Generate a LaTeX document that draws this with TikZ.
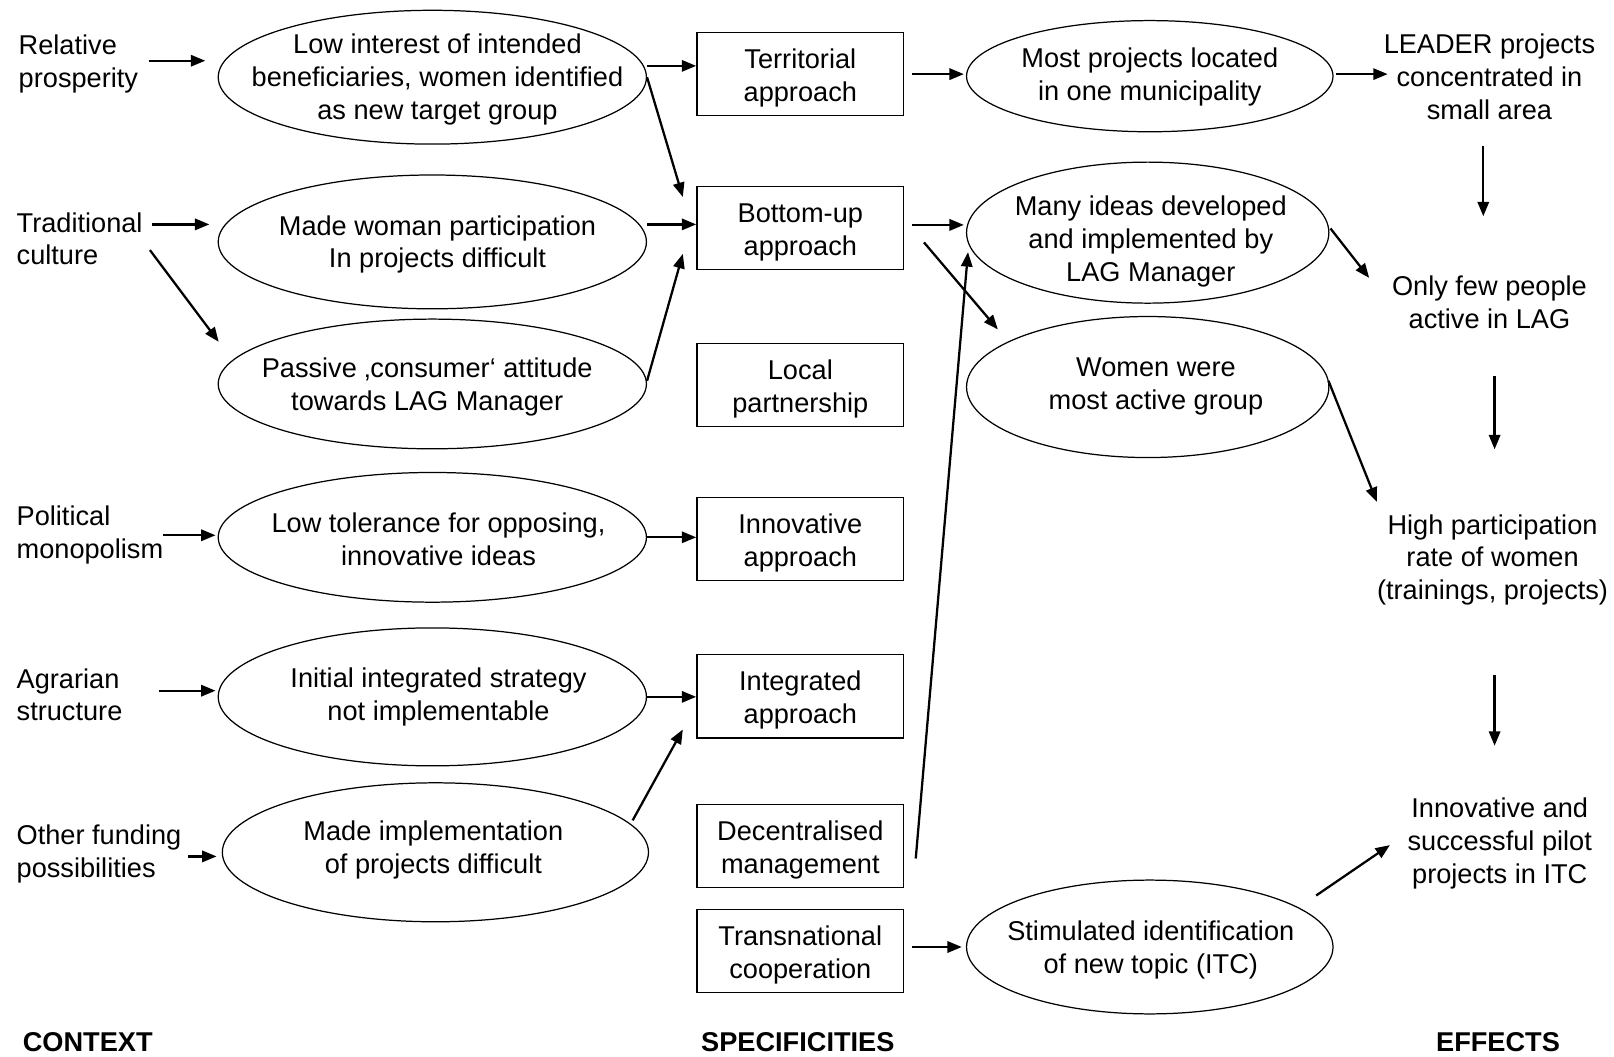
\documentclass[tikz,border=0pt]{standalone}
\usepackage{fontspec}
\setmainfont{Liberation Sans}
\usetikzlibrary{shapes.geometric,arrows.meta}
\newcommand\bxstrut{\rule{0pt}{27pt}}
\begin{document}
\begin{tikzpicture}[x=1pt,y=-1pt,
  every node/.style={font=\fontsize{26.4}{32}\selectfont, inner sep=0pt},
  ell/.style={ellipse, draw, line width=1.2pt},
  txt/.style={align=center},
  ltxt/.style={align=left, anchor=west},
  box/.style={rectangle, draw, line width=1.3pt, minimum width=201pt, minimum height=81pt, align=center},
  arr/.style={line width=2.2pt, -{Triangle[length=14pt,width=11pt]}},
  head/.style={font=\fontsize{26.4}{32}\selectfont\bfseries, anchor=west}]
\useasboundingbox (0,0) rectangle (1568,1026);

% ---- context texts
\node[ltxt] (rp) at (18,62) {Relative\\prosperity};
\node[ltxt] (tc) at (16,232) {Traditional\\culture};
\node[ltxt] (pm) at (16,520) {Political\\monopolism};
\node[ltxt] (as) at (16,675) {Agrarian\\structure};
\node[ltxt] (of) at (16,830) {Other funding\\possibilities};

% ---- left ellipses
\node[ell, minimum width=416pt, minimum height=130pt] (e1) at (420,75) {};
\node[ell, minimum width=416pt, minimum height=130pt] (e2) at (420,235) {};
\node[ell, minimum width=416pt, minimum height=126pt] (e3) at (420,373) {};
\node[ell, minimum width=416pt, minimum height=126pt] (e4) at (420,522) {};
\node[ell, minimum width=416pt, minimum height=134pt] (e5) at (420,677) {};
\node[ell, minimum width=414pt, minimum height=135pt] (e6) at (423,828) {};
\node[txt] (e1t) at (425,77) {Low interest of intended\\beneficiaries, women identified\\as new target group};
\node[txt] (e2t) at (425,237.5) {Made woman participation\\In projects difficult};
\node[txt] (e3t) at (415,375.5) {Passive ‚consumer‘ attitude\\towards LAG Manager};
\node[txt] (e4t) at (426,524) {Low tolerance for opposing,\\innovative ideas};
\node[txt] (e5t) at (426,677) {Initial integrated strategy\\not implementable};
\node[txt] (e6t) at (421,826) {Made implementation\\of projects difficult};

% ---- specificities boxes
\node[box] (b1) at (777.5,72) {\bxstrut Territorial\\approach};
\node[box] (b2) at (777.5,221.5) {\bxstrut Bottom-up\\approach};
\node[box] (b3) at (777.5,374) {\bxstrut Local\\partnership};
\node[box] (b4) at (777.5,523.5) {\bxstrut Innovative\\approach};
\node[box] (b5) at (777.5,676.5) {\bxstrut Integrated\\approach};
\node[box] (b6) at (777.5,822) {\bxstrut Decentralised\\management};
\node[box] (b7) at (777.5,924) {\bxstrut Transnational\\cooperation};

% ---- right ellipses
\node[ell, minimum width=356pt, minimum height=108pt] (e7) at (1117,74) {};
\node[ell, minimum width=352pt, minimum height=137pt] (e8) at (1115,226) {};
\node[ell, minimum width=352pt, minimum height=137pt] (e9) at (1115,376) {};
\node[ell, minimum width=356pt, minimum height=130pt] (e10) at (1117,920) {};
\node[txt] (e7t) at (1117,74.5) {Most projects located\\in one municipality};
\node[txt] (e8t) at (1118,235) {Many ideas developed\\and implemented by\\LAG Manager};
\node[txt] (e9t) at (1123,375.5) {Women were\\most active group};
\node[txt] (e10t) at (1118,923) {Stimulated identification\\of new topic (ITC)};

% ---- effects texts
\node[txt] (lp) at (1447,75) {LEADER projects\\concentrated in\\small area};
\node[txt] (ofp) at (1447,294) {Only few people\\active in LAG};
\node[txt] (hp) at (1450,544) {High participation\\rate of women\\(trainings, projects)};
\node[txt] (ip) at (1457,819) {Innovative and\\successful pilot\\projects in ITC};

% ---- headings
\node[head] (h1) at (22,1012) {CONTEXT};
\node[head] (h2) at (681,1012) {SPECIFICITIES};
\node[head] (h3) at (1395,1012) {EFFECTS};

% ---- arrows: context -> ellipses
\draw[arr] ([xshift=10pt,yshift=3pt]rp.east) -- ([xshift=-12pt,yshift=3pt]e1.west |- rp.east);
\draw[arr] ([xshift=9pt,yshift=14pt]tc.east) -- ([xshift=-8pt,yshift=17pt]e2.west);
\draw[arr] ([xshift=7pt,yshift=-11pt]tc.east) -- ([xshift=1pt,yshift=41pt]e3.west);
\draw[arr] ([xshift=0pt]pm.east) -- ([xshift=-2pt]e4.west |- pm.east);
\draw[arr] ([xshift=35pt,yshift=4pt]as.east) -- ([xshift=-2pt,yshift=4pt]e5.west |- as.east);
\draw[arr] ([xshift=6pt,yshift=-2pt]of.east) -- ([xshift=-5pt,yshift=-2pt]e6.west |- of.east);

% ---- ellipses -> boxes
\draw[arr] ([yshift=11pt]e1.east) -- ([yshift=11pt]e1.east -| b1.west);
\draw[arr] (e1.east) -- ([xshift=-13pt,yshift=-11pt]b2.north west);
\draw[arr] ([yshift=17pt]e2.east) -- ([yshift=17pt]e2.east -| b2.west);
\draw[arr] ([yshift=3pt]e3.east) -- ([xshift=-13pt,yshift=16pt]b2.south west);
\draw[arr] (e4.east) -- (e4.east -| b4.west);
\draw[arr] (e5.east) -- (e5.east -| b5.west);
\draw[arr] ([xshift=-16pt,yshift=31pt]e6.east) -- ([xshift=-13pt,yshift=9pt]b5.south west);

% ---- boxes -> right ellipses
\draw[arr] ([xshift=7pt]b1.east) -- ([xshift=-2pt]b1.east -| e7.west);
\draw[arr] ([xshift=7pt,yshift=3pt]b2.east) -- ([xshift=-2pt,yshift=3pt]b2.east -| e8.west);
\draw[arr] ([xshift=19pt,yshift=-14pt]b2.east) -- ([xshift=31pt,yshift=56pt]e9.west);
\draw[arr] ([xshift=11pt,yshift=-12pt]b6.east) -- ([xshift=2pt,yshift=-19pt]e8.west);
\draw[arr] ([xshift=7pt,yshift=4pt]b7.east) -- ([xshift=-4pt,yshift=4pt]b7.east -| e10.west);

% ---- right ellipses -> effects
\draw[arr] ([xshift=2pt,yshift=2pt]e7.east) -- ([xshift=4pt,yshift=2pt]e7.east -| lp.west);
\draw[arr] ([xshift=1pt,yshift=4pt]e8.east) -- ([xshift=-22pt,yshift=24pt]ofp.west);
\draw[arr] ([xshift=-1pt,yshift=6pt]e9.east) -- ([xshift=0pt,yshift=12pt]hp.north west);
\draw[arr] ([xshift=-17pt,yshift=50pt]e10.east) -- ([xshift=-17pt,yshift=-2pt]ip.west);

% ---- effects chain
\draw[arr] ([xshift=-6pt,yshift=-25pt]lp.south) -- ([xshift=-6pt,yshift=58pt]ofp.north);
\draw[arr] ([xshift=5pt,yshift=-45pt]ofp.south) -- ([xshift=2pt,yshift=63pt]hp.north);
\draw[arr] ([xshift=2pt,yshift=-67pt]hp.south) -- ([xshift=-5pt,yshift=50pt]ip.north);
\end{tikzpicture}
\end{document}
